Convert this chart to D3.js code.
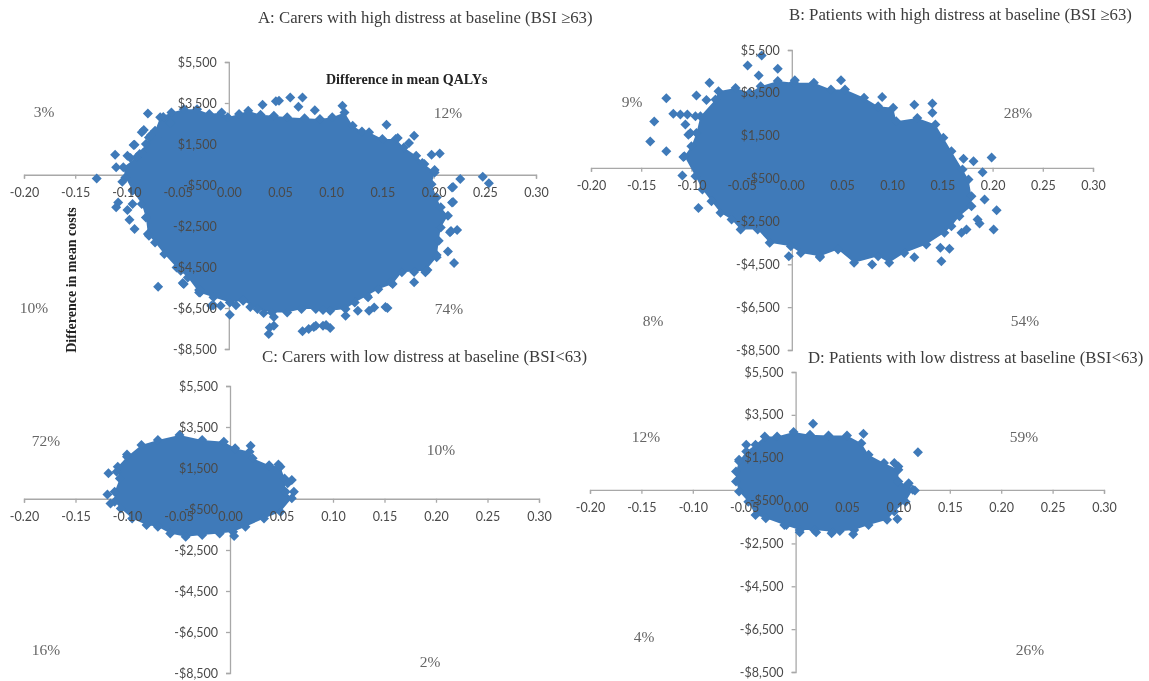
<!DOCTYPE html>
<html>
<head>
<meta charset="utf-8">
<script src="https://cdnjs.cloudflare.com/ajax/libs/d3/7.8.5/d3.min.js"></script>
<style>
  html, body { margin: 0; padding: 0; background: #fff; }
  svg { display: block; filter: blur(0.4px); }
  .tick-label text { font-family: Lato, "Open Sans", sans-serif; font-size: 12.5px; fill: #4a4a4a; }
  .axis-line line, .axis-line path { stroke: #a8a8a8; stroke-width: 1.3; }
  .title { font-family: "Liberation Serif", serif; font-size: 16.8px; fill: #3c3c3c; }
  .pct { font-family: "Liberation Serif", serif; font-size: 15.5px; fill: #666; text-anchor: middle; }
  .axis-title { font-family: "Liberation Serif", serif; font-size: 14px; font-weight: bold; fill: #222; }
</style>
</head>
<body>
<svg id="chart" width="1149" height="681"></svg>
<script>
const qalyTicks = [-0.2, -0.15, -0.1, -0.05, 0, 0.05, 0.1, 0.15, 0.2, 0.25, 0.3];
const costTicks = [-8500, -6500, -4500, -2500, -500, 1500, 3500, 5500];

const titles = [
  'A: Carers with high distress at baseline (BSI \u226563)',
  'B: Patients with high distress at baseline (BSI \u226563)',
  'C: Carers with low distress at baseline (BSI<63)',
  'D: Patients with low distress at baseline (BSI<63)',
];

// quadrant shares, order: NW, NE, SW, SE
const sharesA = ['3%', '12%', '10%', '74%'];
const sharesB = ['9%', '28%', '8%', '54%'];
const sharesC = ['72%', '10%', '16%', '2%'];
const sharesD = ['12%', '59%', '4%', '26%'];

// edge of the solid part of each cloud, [qaly, cost]
const cloudA = [
  [-0.067, 2800], [-0.056, 3040], [-0.044, 3200], [-0.031, 3200], [-0.019, 2960], [-0.007, 3040],
  [-0.001, 2800], [0.01, 2960], [0.019, 3120], [0.031, 2930], [0.044, 2880], [0.057, 2800],
  [0.074, 2760], [0.089, 2720], [0.101, 2800], [0.113, 3040], [0.121, 2390], [0.13, 2110],
  [0.137, 2070], [0.15, 1740], [0.163, 1740], [0.171, 1330], [0.183, 930], [0.191, 520],
  [0.201, 110], [0.198, -460], [0.203, -1110], [0.207, -1590], [0.214, -2000], [0.207, -2570],
  [0.205, -3220], [0.203, -4030], [0.192, -4680], [0.169, -4760], [0.16, -5330], [0.146, -5580],
  [0.135, -5900], [0.123, -6230], [0.114, -6550], [0.099, -6630], [0.085, -6550], [0.071, -6550],
  [0.057, -6720], [0.042, -6720], [0.028, -6550], [0.014, -6150], [0.001, -6230], [-0.015, -5980],
  [-0.029, -5740], [-0.04, -5010], [-0.051, -4520], [-0.063, -3870], [-0.072, -3300], [-0.079, -2890],
  [-0.081, -2080], [-0.085, -1430], [-0.094, -780], [-0.101, -130], [-0.103, 360], [-0.09, 850],
  [-0.081, 1500], [-0.072, 2150],
];
const strayA = [
  [-0.079, 2990], [-0.129, -180], [-0.111, 980], [-0.11, 360], [-0.099, 930], [-0.087, 1010],
  [-0.092, 1460], [-0.085, 2070], [-0.078, 1820], [-0.104, -340], [-0.108, -1350], [-0.11, -1590],
  [-0.099, -1720], [-0.094, -1430], [-0.097, -2200], [-0.092, -2650], [-0.078, -2980], [-0.069, -5460],
  [-0.044, -5330], [-0.047, -4680], [-0.028, -5740], [-0.017, -6390], [-0.008, -6390], [0.001, -6830],
  [0.04, -7450], [0.044, -7370], [0.039, -7770], [0.072, -7640], [0.078, -7530], [0.085, -7370],
  [0.092, -7370], [0.099, -7480], [0.137, -6630], [0.142, -6470], [0.155, -6500], [0.114, -6880],
  [0.126, -6630], [0.092, -6600], [0.181, -5250], [0.192, -4760], [0.22, -4310], [0.214, -3740],
  [0.216, -2810], [0.223, -2700], [0.218, -1350], [0.218, -620], [0.226, -210], [0.248, -100],
  [0.254, -420], [0.198, 980], [0.206, 1040], [0.181, 1900], [0.154, 2440], [0.111, 3370],
  [0.084, 3150], [0.068, 3320], [0.072, 3770], [0.06, 3770], [0.049, 3610], [0.046, 3580], [0.033, 3410],
  [-0.064, 2820], [-0.083, 2180], [-0.076, 1940], [-0.093, 1450], [-0.084, 1060], [-0.096, 820],
  [-0.066, 2040], [-0.057, 2520], [-0.039, -4650], [-0.045, -5280], [-0.029, -5620], [-0.015, -6360],
  [0.007, -6360], [0.021, -6450], [0.034, -6750], [0.044, -6940], [0.083, -7430], [0.095, -7330],
  [0.165, 1790], [0.176, 1550], [0.189, 570], [0.201, 230], [0.219, -600], [0.219, -1330],
  [0.217, -2740], [0.203, -3920], [0.194, -4650], [0.181, -4740], [0.158, -5230], [0.136, -5970],
  [0.153, -6450],
];

const cloudB = [
  [-0.107, 540], [-0.1, 1010], [-0.095, 1630], [-0.091, 2410], [-0.076, 3190], [-0.073, 3580],
  [-0.056, 3730], [-0.042, 3500], [-0.031, 3810], [-0.014, 4050], [0.002, 3970], [0.022, 3970],
  [0.039, 3660], [0.053, 3660], [0.072, 3270], [0.086, 2880], [0.101, 2800], [0.104, 2180],
  [0.125, 2330], [0.143, 2020], [0.151, 1400], [0.159, 780], [0.17, -80], [0.176, -540],
  [0.179, -1320], [0.179, -1790], [0.167, -2260], [0.159, -2720], [0.152, -3030], [0.134, -3580],
  [0.112, -3970], [0.097, -4430], [0.086, -4120], [0.062, -4430], [0.046, -3810], [0.028, -4120],
  [0.009, -3970], [-0.001, -3660], [-0.022, -3500], [-0.034, -2880], [-0.051, -2880], [-0.06, -2410],
  [-0.071, -2100], [-0.08, -1560], [-0.089, -1010], [-0.096, -390],
];
const strayB = [
  [-0.03, 5240], [-0.044, 4780], [-0.033, 4310], [-0.014, 4620], [0.003, 4090], [0.049, 4090],
  [-0.082, 3970], [-0.095, 3380], [-0.125, 3250], [-0.118, 2520], [-0.111, 2490], [-0.104, 2490],
  [-0.096, 2410], [-0.137, 2160], [-0.141, 1230], [-0.125, 780], [-0.106, 2020], [-0.101, 1630],
  [-0.109, -360], [-0.093, -1870], [0.09, 3310], [0.122, 2940], [0.14, 3000], [0.14, 2570],
  [0.171, 420], [0.181, 310], [0.199, 480], [0.19, -200], [0.192, -1480], [0.204, -1980],
  [0.185, -2410], [0.187, -2600], [0.201, -2880], [0.174, -2880], [0.169, -3030], [0.148, -3730],
  [0.157, -3780], [0.149, -4360], [0.122, -4170], [0.08, -4510], [0.028, -4170], [-0.003, -4120],
  [-0.085, 3170], [-0.103, 1540], [-0.108, 510],
];

const cloudC = [
  [-0.112, 340], [-0.107, 990], [-0.109, 1560], [-0.1, 2050], [-0.086, 2620], [-0.07, 2860],
  [-0.049, 3110], [-0.027, 2860], [-0.006, 2780], [0.005, 2460], [0.019, 2290], [0.022, 1970],
  [0.038, 1640], [0.049, 1560], [0.053, 990], [0.054, 340], [0.06, 20], [0.049, -630],
  [0.033, -960], [0.015, -1370], [0.003, -1610], [-0.01, -1690], [-0.027, -1770], [-0.043, -1850],
  [-0.058, -1690], [-0.07, -1370], [-0.081, -1280], [-0.095, -960], [-0.106, -470], [-0.112, -150],
];
const strayC = [
  [-0.119, 210], [-0.116, -230], [-0.118, 1240], [-0.11, 1320], [-0.1, 2160], [0.02, 2590],
  [0.047, 1670], [0.06, 910], [0.056, 750], [0.062, 340], [0.004, -1820],
];

const cloudD = [
  [-0.058, 860], [-0.055, 1330], [-0.048, 1790], [-0.039, 2100], [-0.03, 2490], [-0.018, 2490],
  [-0.002, 2700], [0.014, 2570], [0.032, 2540], [0.05, 2540], [0.064, 2180], [0.071, 1640],
  [0.086, 1250], [0.1, 940], [0.1, 390], [0.109, 230], [0.114, 0], [0.107, -550],
  [0.096, -1010], [0.089, -1400], [0.071, -1640], [0.057, -1870], [0.036, -1950], [0.018, -1870],
  [0.004, -1870], [-0.011, -1640], [-0.029, -1330], [-0.039, -1170], [-0.046, -550], [-0.055, -80],
  [-0.058, 390],
];
const strayD = [
  [0.017, 3090], [0.066, 2620], [0.119, 1760], [-0.048, 2100], [0.1, 1090], [0.096, 1250],
  [0.11, 310], [0.116, -30], [0.099, -1360], [0.004, -1980], [0.02, -1980], [0.035, -2030],
  [0.043, -1920], [0.056, -2070], [-0.009, -1640], [-0.055, 1400],
];

const svg = d3.select('#chart');
const pointColor = '#3f7ab9';
const diamond = d3.symbol().type(d3.symbolSquare).size(50)();

// Plain hyphen for negatives, as in the spreadsheet labels
const locale = d3.formatLocale({
  decimal: '.',
  thousands: ',',
  grouping: [3],
  currency: ['$', ''],
  minus: '-',
});

/**
 * Draws one cost-effectiveness plane
 * @param {object} p - pixel frame and data of the panel
 */
function drawPanel(p) {
  const x = d3.scaleLinear().domain([-0.2, 0.3]).range([p.left, p.right]);
  const y = d3.scaleLinear().domain([-8500, 5500]).range([p.bottom, p.top]);

  const xAxis = d3.axisBottom(x)
    .tickValues(qalyTicks)
    .tickFormat(locale.format('.2f'))
    .tickSizeOuter(0)
    .tickSize(4)
    .tickPadding(9);
  const yAxis = d3.axisLeft(y)
    .tickValues(costTicks)
    .tickFormat(locale.format('$,'))
    .tickSizeOuter(0)
    .tickSize(4)
    .tickPadding(8);

  // Axis lines go under the cloud, their labels stay on top of it
  const lines = svg.append('g').attr('class', 'axis-line');
  lines.append('g').attr('transform', `translate(0,${y(0)})`).call(xAxis).selectAll('text').remove();
  lines.append('g').attr('transform', `translate(${x(0)},0)`).call(yAxis).selectAll('text').remove();

  const line = d3.line().x(d => x(d[0])).y(d => y(d[1])).curve(d3.curveLinearClosed);
  svg.append('path').attr('d', line(p.cloud)).attr('fill', pointColor);

  svg.append('g')
    .selectAll('path')
    .data(p.cloud.concat(p.stray))
    .enter()
    .append('path')
    .attr('d', diamond)
    .attr('transform', d => `translate(${x(d[0])},${y(d[1])}) rotate(45)`)
    .attr('fill', pointColor);

  const labels = svg.append('g').attr('class', 'tick-label');
  [
    labels.append('g').attr('transform', `translate(0,${y(0)})`).call(xAxis),
    labels.append('g').attr('transform', `translate(${x(0)},0)`).call(yAxis),
  ].forEach(g => {
    g.selectAll('line').remove();
    g.select('.domain').remove();
    g.attr('font-family', null).attr('font-size', null);
  });

  svg.append('text').attr('class', 'title').attr('x', p.titleX).attr('y', p.titleY).text(p.title);

  svg.selectAll(null)
    .data(p.shares)
    .enter()
    .append('text')
    .attr('class', 'pct')
    .attr('x', (d, i) => p.sharePos[i][0])
    .attr('y', (d, i) => p.sharePos[i][1])
    .text(d => d);
}

drawPanel({
  left: 24, right: 536, top: 62, bottom: 349,
  cloud: cloudA, stray: strayA, shares: sharesA, title: titles[0], titleX: 258, titleY: 23,
  sharePos: [[44, 117], [448, 118], [34, 313], [449, 314]],
});
drawPanel({
  left: 591, right: 1093, top: 50, bottom: 350,
  cloud: cloudB, stray: strayB, shares: sharesB, title: titles[1], titleX: 789, titleY: 20,
  sharePos: [[632, 107], [1018, 118], [653, 326], [1025, 326]],
});
drawPanel({
  left: 24, right: 539, top: 386, bottom: 673,
  cloud: cloudC, stray: strayC, shares: sharesC, title: titles[2], titleX: 262, titleY: 362,
  sharePos: [[46, 446], [441, 455], [46, 655], [430, 667]],
});
drawPanel({
  left: 590, right: 1104, top: 372, bottom: 672,
  cloud: cloudD, stray: strayD, shares: sharesD, title: titles[3], titleX: 808, titleY: 363,
  sharePos: [[646, 442], [1024, 442], [644, 642], [1030, 655]],
});

svg.append('text').attr('class', 'axis-title').attr('x', 326).attr('y', 84).text('Difference in mean QALYs');
svg.append('text').attr('class', 'axis-title')
  .attr('text-anchor', 'middle')
  .attr('transform', 'translate(76,280) rotate(-90)')
  .text('Difference in mean costs');
</script>
</body>
</html>
